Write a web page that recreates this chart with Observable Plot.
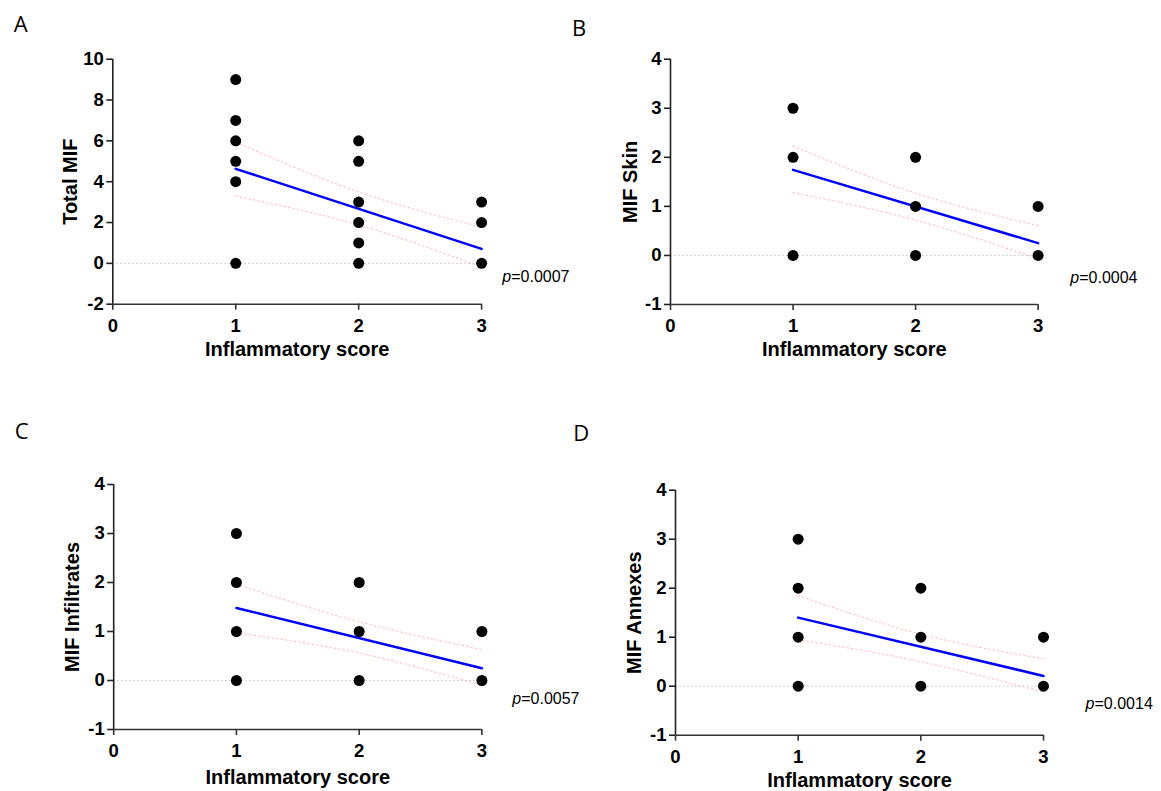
<!DOCTYPE html>
<html><head><meta charset="utf-8">
<script src="https://cdn.jsdelivr.net/npm/d3@7"></script>
<script src="https://cdn.jsdelivr.net/npm/@observablehq/plot@0.6"></script>
<style>
body{margin:0;background:#fff;}
#fig{position:relative;width:1161px;height:791px;overflow:hidden;background:#fff;}
#fig > svg{position:absolute;}
</style></head><body><div id="fig"></div>
<script>
const FONT = "'Liberation Sans', Arial, Helvetica, sans-serif";
const LETTER_FONT = "'Open Sans', 'Noto Sans', sans-serif";
const xTicks = [0, 1, 2, 3];
const xTitle = "Inflammatory score";
const fitX = [1, 3];
const bandX = [1, 2, 3];

// Panel A: Total MIF
const totalMIF_x = [1,1,1,1,1,1, 2,2,2,2,2,2, 3,3,3];
const totalMIF_y = [9,7,6,5,4,0, 6,5,3,2,1,0, 3,2,0];
const totalMIF_fit = [4.63, 0.71];
const totalMIF_upper = [5.93, 3.50, 1.77];
const totalMIF_lower = [3.29, 1.88, -0.19];
const totalMIF_ticks = [-2, 0, 2, 4, 6, 8, 10];

// Panel B: MIF Skin
const skin_x = [1,1,1, 2,2,2, 3,3];
const skin_y = [3,2,0, 2,1,0, 1,0];
const skin_fit = [1.745, 0.25];
const skin_upper = [2.23, 1.27, 0.61];
const skin_lower = [1.28, 0.72, -0.07];

// Panel C: MIF Infiltrates
const infil_x = [1,1,1,1, 2,2,2, 3,3];
const infil_y = [3,2,1,0, 2,1,0, 1,0];
const infil_fit = [1.48, 0.25];
const infil_upper = [1.96, 1.20, 0.63];
const infil_lower = [0.97, 0.56, -0.10];

// Panel D: MIF Annexes
const annex_x = [1,1,1,1, 2,2,2, 3,3];
const annex_y = [3,2,1,0, 2,1,0, 1,0];
const annex_fit = [1.40, 0.21];
const annex_upper = [1.85, 1.06, 0.56];
const annex_lower = [0.95, 0.50, -0.12];

const smallTicks = [-1, 0, 1, 2, 3, 4];

const panels = [
  {letter:"A", yTitle:"Total MIF", p:"=0.0007", xs:totalMIF_x, ys:totalMIF_y, fit:totalMIF_fit, upper:totalMIF_upper, lower:totalMIF_lower, yTicks:totalMIF_ticks,
   left:0, top:0, width:560, height:380, ml:112.3, mr:78.9, mt:58.7, mb:76.3,
   ytdx:-42, xtdy:45, pdx:20.7, pdy:-27, ldx:-99.1, ldy:-34.1},
  {letter:"B", yTitle:"MIF Skin", p:"=0.0004", xs:skin_x, ys:skin_y, fit:skin_fit, upper:skin_upper, lower:skin_lower, yTicks:smallTicks,
   left:560, top:0, width:601, height:380, ml:110, mr:123.4, mt:58.7, mb:76,
   ytdx:-40, xtdy:44.7, pdx:32.2, pdy:-27, ldx:-98.4, ldy:-30.4},
  {letter:"C", yTitle:"MIF Infiltrates", p:"=0.0057", xs:infil_x, ys:infil_y, fit:infil_fit, upper:infil_upper, lower:infil_lower, yTicks:smallTicks,
   left:0, top:380, width:560, height:411, ml:113.2, mr:78.6, mt:104, mb:62,
   ytdx:-40.9, xtdy:48.5, pdx:30.4, pdy:-30.5, ldx:-99, ldy:-52.7},
  {letter:"D", yTitle:"MIF Annexes", p:"=0.0014", xs:annex_x, ys:annex_y, fit:annex_fit, upper:annex_upper, lower:annex_lower, yTicks:smallTicks,
   left:560, top:380, width:601, height:411, ml:115, mr:118, mt:109.7, mb:56.3,
   ytdx:-40.8, xtdy:45.3, pdx:42.1, pdy:-31.7, ldx:-102.2, ldy:-55.9}
];

const fig = document.getElementById("fig");

for (const o of panels) {
  const pts = o.xs.map((x, i) => ({x, y: o.ys[i]}));
  const fit = fitX.map((x, i) => ({x, y: o.fit[i]}));
  const up = bandX.map((x, i) => ({x, y: o.upper[i]}));
  const lo = bandX.map((x, i) => ({x, y: o.lower[i]}));
  const y0 = o.yTicks[0], y1 = o.yTicks[o.yTicks.length - 1];
  const svg = Plot.plot({
    width: o.width, height: o.height,
    marginLeft: o.ml, marginRight: o.mr, marginTop: o.mt, marginBottom: o.mb,
    x: {domain: [0, 3]},
    y: {domain: [y0, y1]},
    style: {background: "transparent", overflow: "visible", fontFamily: FONT, color: "#000"},
    marks: [
      Plot.ruleY([0], {x1: 0, x2: 3, stroke: "#c4c4c4", strokeWidth: 1, strokeDasharray: "1.5,2.5"}),
      Plot.line(up, {x: "x", y: "y", curve: "natural", stroke: "#ffb4b4", strokeWidth: 1, strokeDasharray: "1.5,3"}),
      Plot.line(lo, {x: "x", y: "y", curve: "natural", stroke: "#ffb4b4", strokeWidth: 1, strokeDasharray: "1.5,3"}),
      Plot.line(fit, {x: "x", y: "y", stroke: "#0000ff", strokeWidth: 2.5}),
      Plot.dot(pts, {x: "x", y: "y", r: 5.5, fill: "#000", stroke: null}),
      Plot.ruleX([0], {y1: y0, y2: y1, stroke: "#222", strokeWidth: 1.6}),
      Plot.ruleY([y0], {x1: 0, x2: 3, stroke: "#333", strokeWidth: 1.6}),
      Plot.axisY({ticks: o.yTicks, tickSize: 6, tickPadding: 3, tickFormat: d => String(d),
        fontSize: 18.5, fontWeight: "bold", stroke: "#222", strokeWidth: 1.6, label: null}),
      Plot.axisX({ticks: xTicks, tickSize: 6, tickPadding: 8.6, tickFormat: d => String(d),
        fontSize: 18.5, fontWeight: "bold", stroke: "#333", strokeWidth: 1.6, label: null}),
      Plot.text([o.yTitle], {text: d => d, frameAnchor: "left", dx: o.ytdx, rotate: -90,
        textAnchor: "middle", lineAnchor: "middle", fontSize: 20, fontWeight: "bold", fill: "#000"}),
      Plot.text([xTitle], {text: d => d, frameAnchor: "bottom", dy: o.xtdy,
        textAnchor: "middle", lineAnchor: "middle", fontSize: 20, fontWeight: "bold", fill: "#000"}),
      Plot.text(["p"], {text: d => d, frameAnchor: "bottom-right", dx: o.pdx, dy: o.pdy,
        textAnchor: "start", lineAnchor: "middle", fontSize: 16, fontStyle: "italic", fill: "#000"}),
      Plot.text([o.p], {text: d => d, frameAnchor: "bottom-right", dx: o.pdx + 8.9, dy: o.pdy,
        textAnchor: "start", lineAnchor: "middle", fontSize: 16, fill: "#000"}),
      Plot.text([o.letter], {text: d => d, frameAnchor: "top-left", dx: o.ldx, dy: o.ldy,
        textAnchor: "start", lineAnchor: "middle", fontSize: 22, fontFamily: LETTER_FONT, fill: "#000"})
    ]
  });
  svg.style.left = o.left + "px";
  svg.style.top = o.top + "px";
  fig.appendChild(svg);
}
</script>
</body></html>
